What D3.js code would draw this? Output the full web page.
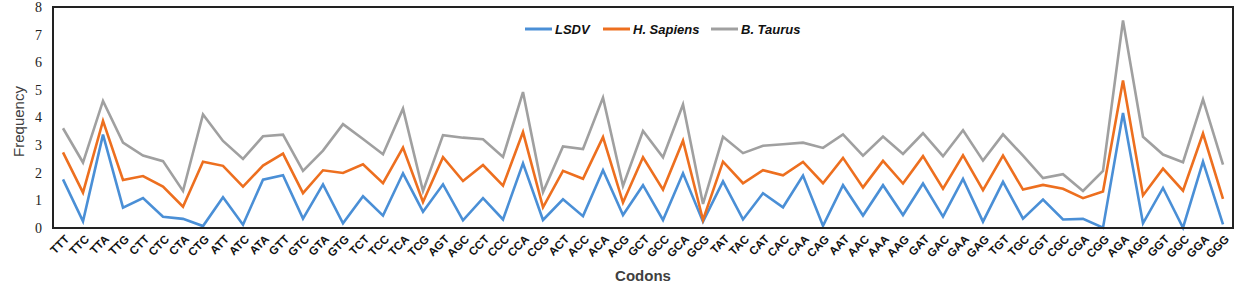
<!DOCTYPE html>
<html>
<head>
<meta charset="utf-8">
<script src="https://cdn.jsdelivr.net/npm/d3@7"></script>
<style>
  body { margin: 0; background: #fff; }
  svg { display: block; }
</style>
</head>
<body>
<div id="chart"></div>
<script>
// codons (stop codons and single-codon amino acids left out)
const codons = ["TTT","TTC","TTA","TTG","CTT","CTC","CTA","CTG","ATT","ATC","ATA","GTT","GTC","GTA","GTG",
    "TCT","TCC","TCA","TCG","AGT","AGC","CCT","CCC","CCA","CCG","ACT","ACC","ACA","ACG","GCT","GCC","GCA","GCG",
    "TAT","TAC","CAT","CAC","CAA","CAG","AAT","AAC","AAA","AAG","GAT","GAC","GAA","GAG","TGT","TGC",
    "CGT","CGC","CGA","CGG","AGA","AGG","GGT","GGC","GGA","GGG"]

const lsdv = [1.76,0.24,3.38,0.74,1.08,0.41,0.33,0.07,1.11,0.12,1.75,1.91,0.34,1.58,0.17,
    1.15,0.45,1.98,0.59,1.58,0.28,1.08,0.31,2.34,0.29,1.04,0.43,2.09,0.47,1.55,0.29,1.98,0.23,
    1.69,0.31,1.26,0.75,1.90,0.08,1.55,0.45,1.55,0.47,1.61,0.41,1.78,0.23,1.67,0.34,
    1.03,0.31,0.33,0.01,4.16,0.17,1.45,0.01,2.40,0.13]

const hSapiens = [2.74,1.28,3.88,1.74,1.88,1.50,0.77,2.40,2.25,1.50,2.26,2.69,1.26,2.09,1.99,
    2.31,1.62,2.91,0.94,2.56,1.70,2.28,1.53,3.47,0.75,2.07,1.78,3.29,0.92,2.56,1.39,3.16,0.29,
    2.40,1.62,2.09,1.91,2.39,1.62,2.54,1.47,2.43,1.61,2.60,1.42,2.63,1.37,2.62,1.39,
    1.56,1.42,1.08,1.32,5.34,1.18,2.15,1.35,3.42,1.05]

const bTaurus = [3.61,2.37,4.60,3.09,2.62,2.42,1.34,4.11,3.15,2.50,3.32,3.38,2.07,2.80,3.76,
    3.22,2.67,4.32,1.34,3.36,3.27,3.21,2.57,4.92,1.30,2.95,2.86,4.72,1.52,3.51,2.56,4.47,0.87,
    3.30,2.71,2.98,3.03,3.09,2.90,3.39,2.62,3.31,2.68,3.43,2.60,3.54,2.44,3.39,2.62,
    1.81,1.95,1.34,2.07,7.51,3.30,2.66,2.38,4.66,2.29]

const seriesNames = ["LSDV", "H. Sapiens", "B. Taurus"]
const seriesColors = ["#4a8fd6", "#ed6f1f", "#a0a0a0"]
const yTicks = [0,1,2,3,4,5,6,7,8]

const series = [lsdv, hSapiens, bTaurus].map((vals, i) => ({
    name: seriesNames[i], color: seriesColors[i], values: vals
}))

const W = 1247, H = 287
const plot = {left: 53, right: 1233, top: 7, bottom: 228}

const svg = d3.select("#chart").append("svg")
    .attr("width", W)
    .attr("height", H)

const x = d3.scaleBand()
    .domain(codons)
    .range([plot.left, plot.right])

const y = d3.scaleLinear()
    .domain([0, 8])
    .range([plot.bottom, plot.top])

// y tick labels (serif, like the original)
svg.append("g")
    .selectAll("text")
    .data(yTicks)
    .join("text")
    .attr("x", plot.left - 11)
    .attr("y", d => y(d))
    .attr("dy", "0.35em")
    .attr("text-anchor", "end")
    .attr("font-family", "Liberation Serif, Times New Roman, serif")
    .attr("font-size", 14)
    .attr("fill", "#222")
    .text(d => d)

// x tick labels, rotated
svg.append("g")
    .selectAll("text")
    .data(codons)
    .join("text")
    .attr("transform", d => `translate(${x(d) + x.bandwidth() / 2 + 4},${plot.bottom + 9}) rotate(-45)`)
    .attr("dy", "0.35em")
    .attr("text-anchor", "end")
    .attr("font-family", "Liberation Sans, Arial, sans-serif")
    .attr("font-weight", "bold")
    .attr("font-size", 11.5)
    .attr("fill", "#111")
    .text(d => d)

// lines
const line = d3.line()
    .x((d, i) => x(codons[i]) + x.bandwidth() / 2)
    .y(d => y(d))

svg.append("g")
    .selectAll("path")
    .data(series)
    .join("path")
    .attr("d", d => line(d.values))
    .attr("fill", "none")
    .attr("stroke", d => d.color)
    .attr("stroke-width", 2.6)
    .attr("stroke-linejoin", "miter")

// frame
svg.append("rect")
    .attr("x", plot.left)
    .attr("y", plot.top)
    .attr("width", plot.right - plot.left)
    .attr("height", plot.bottom - plot.top)
    .attr("fill", "none")
    .attr("stroke", "#222")
    .attr("stroke-width", 2)

// axis titles
svg.append("text")
    .attr("transform", `translate(24,${(plot.top + plot.bottom) / 2 + 4}) rotate(-90)`)
    .attr("text-anchor", "middle")
    .attr("font-family", "Liberation Sans, Arial, sans-serif")
    .attr("font-size", 15)
    .attr("fill", "#404040")
    .text("Frequency")

svg.append("text")
    .attr("x", 643)
    .attr("y", 281)
    .attr("text-anchor", "middle")
    .attr("font-family", "Liberation Sans, Arial, sans-serif")
    .attr("font-weight", "bold")
    .attr("font-size", 15)
    .attr("fill", "#404040")
    .text("Codons")

// legend
const legendX = [525, 603, 711]
const legend = svg.append("g")
    .selectAll("g")
    .data(series)
    .join("g")
    .attr("transform", (d, i) => `translate(${legendX[i]},29)`)

legend.append("line")
    .attr("x1", 0).attr("x2", 27)
    .attr("stroke", d => d.color)
    .attr("stroke-width", 3)

legend.append("text")
    .attr("x", 30)
    .attr("dy", "0.35em")
    .attr("font-family", "Liberation Sans, Arial, sans-serif")
    .attr("font-weight", "bold")
    .attr("font-style", "italic")
    .attr("font-size", 13)
    .attr("fill", "#111")
    .text(d => d.name)
</script>
</body>
</html>
